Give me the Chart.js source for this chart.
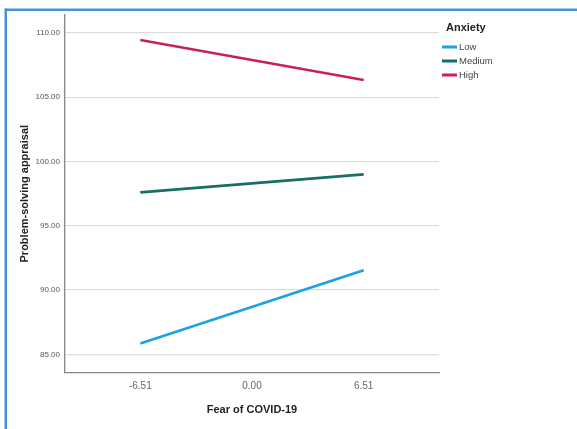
<!DOCTYPE html>
<html>
<head>
<meta charset="utf-8">
<script src="https://cdn.jsdelivr.net/npm/chart.js@4"></script>
<style>
  html, body { margin: 0; padding: 0; background: #fff; }
  #wrap { width: 577px; height: 429px; }
</style>
</head>
<body>
<div id="wrap"><canvas id="chart" width="577" height="429"></canvas></div>
<script>
// Fear of COVID-19 (x) vs problem-solving appraisal, by anxiety level
const fearLevels = [-6.51, 6.51];
const xTicks = [-6.51, 0, 6.51];
const yTicks = [85, 90, 95, 100, 105, 110];

const lowValues = [85.85, 91.55];
const mediumValues = [97.6, 99.0];
const highValues = [109.45, 106.35];

const seriesNames = ["Low", "Medium", "High"];
const seriesColors = ["rgb(28, 160, 232)", "rgb(24, 110, 100)", "rgb(200, 32, 92)"];

function toPoints(values) {
    return fearLevels.map((x, i) => ({ x: x, y: values[i] }));
}

// blue frame round the figure
const framePlugin = {
    id: "frame",
    beforeDraw(chart) {
        const ctx = chart.ctx;
        ctx.save();
        ctx.fillStyle = "#fff";
        ctx.fillRect(0, 0, chart.width, chart.height);
        ctx.fillStyle = "rgb(74, 144, 217)";
        ctx.fillRect(5, 8.5, chart.width - 5, 2.5);
        ctx.fillRect(4.5, 8.5, 2.5, chart.height - 8.5);
        ctx.restore();
    },
};

// legend drawn beside the plot, like the SPSS one
const legendPlugin = {
    id: "sideLegend",
    afterDraw(chart) {
        const ctx = chart.ctx;
        const x0 = chart.chartArea.right + 2;
        ctx.save();
        ctx.font = "bold 11px 'Liberation Sans', Arial, sans-serif";
        ctx.fillStyle = "#222";
        ctx.textBaseline = "middle";
        ctx.fillText("Anxiety", x0 + 5, 28);
        ctx.font = "9.5px 'Liberation Sans', Arial, sans-serif";
        chart.data.datasets.forEach((ds, i) => {
            const y = 47 + i * 14;
            ctx.strokeStyle = ds.borderColor;
            ctx.lineWidth = 3;
            ctx.beginPath();
            ctx.moveTo(x0 + 1, y);
            ctx.lineTo(x0 + 16, y);
            ctx.stroke();
            ctx.fillStyle = "#444";
            ctx.fillText(ds.label, x0 + 18, y + 0.5);
        });
        ctx.restore();
    },
};

const datasets = [lowValues, mediumValues, highValues].map((vals, i) => ({
    label: seriesNames[i],
    data: toPoints(vals),
    borderColor: seriesColors[i],
    backgroundColor: seriesColors[i],
    borderWidth: 2.6,
    pointRadius: 0,
    tension: 0,
}));

const chart = new Chart(document.getElementById("chart"), {
    type: "line",
    data: { datasets: datasets },
    options: {
        responsive: false,
        animation: false,
        layout: {
            padding: { left: 12, right: 138, top: 15, bottom: 8 },
        },
        plugins: {
            legend: { display: false },
            tooltip: { enabled: false },
        },
        scales: {
            x: {
                type: "linear",
                min: -10.9,
                max: 10.9,
                afterBuildTicks(scale) {
                    scale.ticks = xTicks.map((v) => ({ value: v }));
                },
                afterFit(scale) {
                    scale.height = 48.6;
                },
                grid: { display: false, drawTicks: false },
                border: { color: "#888", width: 1.3 },
                ticks: {
                    padding: 8,
                    color: "#666",
                    font: { family: "'Liberation Sans', Arial, sans-serif", size: 10 },
                    callback: (v) => v.toFixed(2),
                },
                title: {
                    display: true,
                    text: "Fear of COVID-19",
                    color: "#222",
                    padding: { top: 4, bottom: 4 },
                    font: { family: "'Liberation Sans', Arial, sans-serif", size: 11, weight: "bold" },
                },
            },
            y: {
                min: 83.6,
                max: 111.4,
                afterBuildTicks(scale) {
                    scale.ticks = yTicks.map((v) => ({ value: v }));
                },
                afterFit(scale) {
                    scale.width = 53;
                },
                grid: { color: "#ddd", lineWidth: 1.3, drawTicks: false },
                border: { color: "#888", width: 1.3 },
                ticks: {
                    padding: 5,
                    color: "#555",
                    font: { family: "'Liberation Sans', Arial, sans-serif", size: 8 },
                    callback: (v) => v.toFixed(2),
                },
                title: {
                    display: true,
                    text: "Problem-solving appraisal",
                    color: "#222",
                    padding: { top: 6, bottom: 4 },
                    font: { family: "'Liberation Sans', Arial, sans-serif", size: 11, weight: "bold" },
                },
            },
        },
    },
    plugins: [framePlugin, legendPlugin],
});
</script>
</body>
</html>
